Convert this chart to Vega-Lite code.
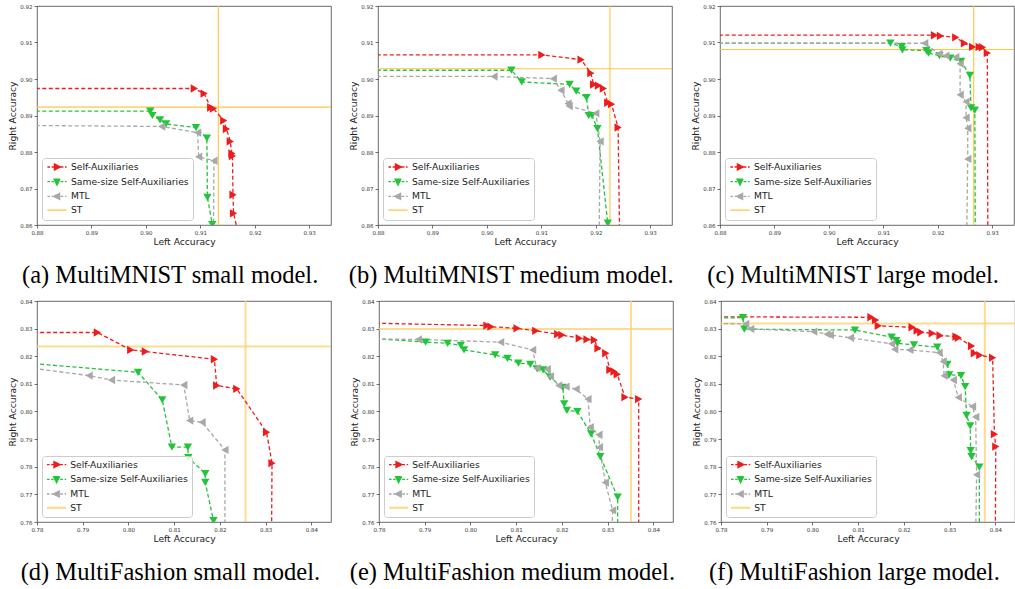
{
"$schema": "https://vega.github.io/schema/vega-lite/v6.json",
"padding": {"left": 8, "top": 3, "right": 0, "bottom": 0},
"data": {"name": "pts"},
"datasets": {"pts": [
{"p":"a","s":"Self-Auxiliaries","i":0,"x":0.875,"y":0.8974},{"p":"a","s":"Self-Auxiliaries","i":1,"x":0.9089,"y":0.8974},{"p":"a","s":"Self-Auxiliaries","i":2,"x":0.9107,"y":0.8960},{"p":"a","s":"Self-Auxiliaries","i":3,"x":0.9119,"y":0.8922},{"p":"a","s":"Self-Auxiliaries","i":4,"x":0.9124,"y":0.8919},{"p":"a","s":"Self-Auxiliaries","i":5,"x":0.9143,"y":0.8886},{"p":"a","s":"Self-Auxiliaries","i":6,"x":0.9148,"y":0.8863},{"p":"a","s":"Self-Auxiliaries","i":7,"x":0.9155,"y":0.8829},{"p":"a","s":"Self-Auxiliaries","i":8,"x":0.9158,"y":0.8796},{"p":"a","s":"Self-Auxiliaries","i":9,"x":0.9159,"y":0.8789},{"p":"a","s":"Self-Auxiliaries","i":10,"x":0.9160,"y":0.8683},{"p":"a","s":"Self-Auxiliaries","i":11,"x":0.9161,"y":0.8632},{"p":"a","s":"Self-Auxiliaries","i":12,"x":0.9174,"y":0.855},
{"p":"a","s":"Same-size Self-Auxiliaries","i":0,"x":0.875,"y":0.8912},{"p":"a","s":"Same-size Self-Auxiliaries","i":1,"x":0.9008,"y":0.8912},{"p":"a","s":"Same-size Self-Auxiliaries","i":2,"x":0.9012,"y":0.8900},{"p":"a","s":"Same-size Self-Auxiliaries","i":3,"x":0.9026,"y":0.8888},{"p":"a","s":"Same-size Self-Auxiliaries","i":4,"x":0.9037,"y":0.8877},{"p":"a","s":"Same-size Self-Auxiliaries","i":5,"x":0.9092,"y":0.8867},{"p":"a","s":"Same-size Self-Auxiliaries","i":6,"x":0.9112,"y":0.8838},{"p":"a","s":"Same-size Self-Auxiliaries","i":7,"x":0.9113,"y":0.8676},{"p":"a","s":"Same-size Self-Auxiliaries","i":8,"x":0.9122,"y":0.8601},{"p":"a","s":"Same-size Self-Auxiliaries","i":9,"x":0.9126,"y":0.855},
{"p":"a","s":"MTL","i":0,"x":0.875,"y":0.8873},{"p":"a","s":"MTL","i":1,"x":0.9029,"y":0.8870},{"p":"a","s":"MTL","i":2,"x":0.9095,"y":0.8853},{"p":"a","s":"MTL","i":3,"x":0.9097,"y":0.8787},{"p":"a","s":"MTL","i":4,"x":0.9125,"y":0.8776},{"p":"a","s":"MTL","i":5,"x":0.9124,"y":0.855},
{"p":"a","s":"ST","i":0,"x":0.9133,"y":0.8923},

{"p":"b","s":"Self-Auxiliaries","i":0,"x":0.875,"y":0.9066},{"p":"b","s":"Self-Auxiliaries","i":1,"x":0.9101,"y":0.9066},{"p":"b","s":"Self-Auxiliaries","i":2,"x":0.9173,"y":0.9053},{"p":"b","s":"Self-Auxiliaries","i":3,"x":0.9191,"y":0.9016},{"p":"b","s":"Self-Auxiliaries","i":4,"x":0.9196,"y":0.8985},{"p":"b","s":"Self-Auxiliaries","i":5,"x":0.9205,"y":0.8982},{"p":"b","s":"Self-Auxiliaries","i":6,"x":0.9214,"y":0.8974},{"p":"b","s":"Self-Auxiliaries","i":7,"x":0.9222,"y":0.8935},{"p":"b","s":"Self-Auxiliaries","i":8,"x":0.9229,"y":0.8931},{"p":"b","s":"Self-Auxiliaries","i":9,"x":0.9241,"y":0.8867},{"p":"b","s":"Self-Auxiliaries","i":10,"x":0.9244,"y":0.855},
{"p":"b","s":"Same-size Self-Auxiliaries","i":0,"x":0.875,"y":0.9024},{"p":"b","s":"Same-size Self-Auxiliaries","i":1,"x":0.9045,"y":0.9024},{"p":"b","s":"Same-size Self-Auxiliaries","i":2,"x":0.9064,"y":0.8992},{"p":"b","s":"Same-size Self-Auxiliaries","i":3,"x":0.9152,"y":0.8985},{"p":"b","s":"Same-size Self-Auxiliaries","i":4,"x":0.9164,"y":0.8967},{"p":"b","s":"Same-size Self-Auxiliaries","i":5,"x":0.9183,"y":0.8949},{"p":"b","s":"Same-size Self-Auxiliaries","i":6,"x":0.9187,"y":0.8900},{"p":"b","s":"Same-size Self-Auxiliaries","i":7,"x":0.9193,"y":0.8900},{"p":"b","s":"Same-size Self-Auxiliaries","i":8,"x":0.9203,"y":0.8864},{"p":"b","s":"Same-size Self-Auxiliaries","i":9,"x":0.9222,"y":0.8605},{"p":"b","s":"Same-size Self-Auxiliaries","i":10,"x":0.9224,"y":0.855},
{"p":"b","s":"MTL","i":0,"x":0.875,"y":0.9007},{"p":"b","s":"MTL","i":1,"x":0.9013,"y":0.9007},{"p":"b","s":"MTL","i":2,"x":0.9122,"y":0.9001},{"p":"b","s":"MTL","i":3,"x":0.9136,"y":0.8969},{"p":"b","s":"MTL","i":4,"x":0.9149,"y":0.8933},{"p":"b","s":"MTL","i":5,"x":0.9151,"y":0.8926},{"p":"b","s":"MTL","i":6,"x":0.9200,"y":0.8906},{"p":"b","s":"MTL","i":7,"x":0.9208,"y":0.8829},{"p":"b","s":"MTL","i":8,"x":0.9206,"y":0.855},
{"p":"b","s":"ST","i":0,"x":0.9226,"y":0.9028},

{"p":"c","s":"Self-Auxiliaries","i":0,"x":0.875,"y":0.9120},{"p":"c","s":"Self-Auxiliaries","i":1,"x":0.9194,"y":0.9120},{"p":"c","s":"Self-Auxiliaries","i":2,"x":0.9205,"y":0.9118},{"p":"c","s":"Self-Auxiliaries","i":3,"x":0.9233,"y":0.9114},{"p":"c","s":"Self-Auxiliaries","i":4,"x":0.9249,"y":0.9098},{"p":"c","s":"Self-Auxiliaries","i":5,"x":0.9264,"y":0.9088},{"p":"c","s":"Self-Auxiliaries","i":6,"x":0.9276,"y":0.9088},{"p":"c","s":"Self-Auxiliaries","i":7,"x":0.9282,"y":0.9087},{"p":"c","s":"Self-Auxiliaries","i":8,"x":0.9291,"y":0.9071},{"p":"c","s":"Self-Auxiliaries","i":9,"x":0.9292,"y":0.855},
{"p":"c","s":"Same-size Self-Auxiliaries","i":0,"x":0.875,"y":0.9098},{"p":"c","s":"Same-size Self-Auxiliaries","i":1,"x":0.9113,"y":0.9098},{"p":"c","s":"Same-size Self-Auxiliaries","i":2,"x":0.9134,"y":0.9089},{"p":"c","s":"Same-size Self-Auxiliaries","i":3,"x":0.9135,"y":0.9080},{"p":"c","s":"Same-size Self-Auxiliaries","i":4,"x":0.9179,"y":0.9078},{"p":"c","s":"Same-size Self-Auxiliaries","i":5,"x":0.9183,"y":0.9071},{"p":"c","s":"Same-size Self-Auxiliaries","i":6,"x":0.9203,"y":0.9064},{"p":"c","s":"Same-size Self-Auxiliaries","i":7,"x":0.9223,"y":0.9057},{"p":"c","s":"Same-size Self-Auxiliaries","i":8,"x":0.9243,"y":0.9048},{"p":"c","s":"Same-size Self-Auxiliaries","i":9,"x":0.9259,"y":0.9010},{"p":"c","s":"Same-size Self-Auxiliaries","i":10,"x":0.9261,"y":0.8921},{"p":"c","s":"Same-size Self-Auxiliaries","i":11,"x":0.9268,"y":0.8915},{"p":"c","s":"Same-size Self-Auxiliaries","i":12,"x":0.9269,"y":0.855},
{"p":"c","s":"MTL","i":0,"x":0.875,"y":0.9098},{"p":"c","s":"MTL","i":1,"x":0.9176,"y":0.9098},{"p":"c","s":"MTL","i":2,"x":0.9202,"y":0.9069},{"p":"c","s":"MTL","i":3,"x":0.9215,"y":0.9064},{"p":"c","s":"MTL","i":4,"x":0.9233,"y":0.9060},{"p":"c","s":"MTL","i":5,"x":0.9241,"y":0.9042},{"p":"c","s":"MTL","i":6,"x":0.9241,"y":0.8957},{"p":"c","s":"MTL","i":7,"x":0.9252,"y":0.8938},{"p":"c","s":"MTL","i":8,"x":0.9252,"y":0.8894},{"p":"c","s":"MTL","i":9,"x":0.9255,"y":0.8865},{"p":"c","s":"MTL","i":10,"x":0.9255,"y":0.8781},{"p":"c","s":"MTL","i":11,"x":0.9253,"y":0.855},
{"p":"c","s":"ST","i":0,"x":0.9266,"y":0.9081},

{"p":"d","s":"Self-Auxiliaries","i":0,"x":0.775,"y":0.8286},{"p":"d","s":"Self-Auxiliaries","i":1,"x":0.7932,"y":0.8286},{"p":"d","s":"Self-Auxiliaries","i":2,"x":0.8005,"y":0.8223},{"p":"d","s":"Self-Auxiliaries","i":3,"x":0.8037,"y":0.8217},{"p":"d","s":"Self-Auxiliaries","i":4,"x":0.8188,"y":0.8189},{"p":"d","s":"Self-Auxiliaries","i":5,"x":0.8193,"y":0.8094},{"p":"d","s":"Self-Auxiliaries","i":6,"x":0.8237,"y":0.8082},{"p":"d","s":"Self-Auxiliaries","i":7,"x":0.8302,"y":0.7925},{"p":"d","s":"Self-Auxiliaries","i":8,"x":0.8314,"y":0.7813},{"p":"d","s":"Self-Auxiliaries","i":9,"x":0.8313,"y":0.755},
{"p":"d","s":"Same-size Self-Auxiliaries","i":0,"x":0.775,"y":0.8179},{"p":"d","s":"Same-size Self-Auxiliaries","i":1,"x":0.8021,"y":0.8142},{"p":"d","s":"Same-size Self-Auxiliaries","i":2,"x":0.8074,"y":0.8042},{"p":"d","s":"Same-size Self-Auxiliaries","i":3,"x":0.8095,"y":0.7871},{"p":"d","s":"Same-size Self-Auxiliaries","i":4,"x":0.8130,"y":0.7871},{"p":"d","s":"Same-size Self-Auxiliaries","i":5,"x":0.8131,"y":0.7833},{"p":"d","s":"Same-size Self-Auxiliaries","i":6,"x":0.8168,"y":0.7775},{"p":"d","s":"Same-size Self-Auxiliaries","i":7,"x":0.8168,"y":0.7743},{"p":"d","s":"Same-size Self-Auxiliaries","i":8,"x":0.8186,"y":0.7605},{"p":"d","s":"Same-size Self-Auxiliaries","i":9,"x":0.8190,"y":0.755},
{"p":"d","s":"MTL","i":0,"x":0.775,"y":0.8165},{"p":"d","s":"MTL","i":1,"x":0.7914,"y":0.8130},{"p":"d","s":"MTL","i":2,"x":0.7963,"y":0.8114},{"p":"d","s":"MTL","i":3,"x":0.8121,"y":0.8096},{"p":"d","s":"MTL","i":4,"x":0.8134,"y":0.7967},{"p":"d","s":"MTL","i":5,"x":0.8161,"y":0.7961},{"p":"d","s":"MTL","i":6,"x":0.8211,"y":0.7861},{"p":"d","s":"MTL","i":7,"x":0.8211,"y":0.755},
{"p":"d","s":"ST","i":0,"x":0.8256,"y":0.8235},

{"p":"e","s":"Self-Auxiliaries","i":0,"x":0.775,"y":0.8321},{"p":"e","s":"Self-Auxiliaries","i":1,"x":0.8036,"y":0.8311},{"p":"e","s":"Self-Auxiliaries","i":2,"x":0.8045,"y":0.8307},{"p":"e","s":"Self-Auxiliaries","i":3,"x":0.8102,"y":0.8301},{"p":"e","s":"Self-Auxiliaries","i":4,"x":0.8143,"y":0.8292},{"p":"e","s":"Self-Auxiliaries","i":5,"x":0.8191,"y":0.8280},{"p":"e","s":"Self-Auxiliaries","i":6,"x":0.8200,"y":0.8277},{"p":"e","s":"Self-Auxiliaries","i":7,"x":0.8238,"y":0.8265},{"p":"e","s":"Self-Auxiliaries","i":8,"x":0.8255,"y":0.8261},{"p":"e","s":"Self-Auxiliaries","i":9,"x":0.8271,"y":0.8259},{"p":"e","s":"Self-Auxiliaries","i":10,"x":0.8279,"y":0.8229},{"p":"e","s":"Self-Auxiliaries","i":11,"x":0.8296,"y":0.8211},{"p":"e","s":"Self-Auxiliaries","i":12,"x":0.8305,"y":0.8151},{"p":"e","s":"Self-Auxiliaries","i":13,"x":0.8314,"y":0.8145},{"p":"e","s":"Self-Auxiliaries","i":14,"x":0.8321,"y":0.8135},{"p":"e","s":"Self-Auxiliaries","i":15,"x":0.8338,"y":0.8052},{"p":"e","s":"Self-Auxiliaries","i":16,"x":0.8368,"y":0.8045},{"p":"e","s":"Self-Auxiliaries","i":17,"x":0.8368,"y":0.755},
{"p":"e","s":"Same-size Self-Auxiliaries","i":0,"x":0.775,"y":0.8269},{"p":"e","s":"Same-size Self-Auxiliaries","i":1,"x":0.7902,"y":0.8251},{"p":"e","s":"Same-size Self-Auxiliaries","i":2,"x":0.7950,"y":0.8247},{"p":"e","s":"Same-size Self-Auxiliaries","i":3,"x":0.7979,"y":0.8239},{"p":"e","s":"Same-size Self-Auxiliaries","i":4,"x":0.7986,"y":0.8223},{"p":"e","s":"Same-size Self-Auxiliaries","i":5,"x":0.8054,"y":0.8205},{"p":"e","s":"Same-size Self-Auxiliaries","i":6,"x":0.8081,"y":0.8192},{"p":"e","s":"Same-size Self-Auxiliaries","i":7,"x":0.8105,"y":0.8175},{"p":"e","s":"Same-size Self-Auxiliaries","i":8,"x":0.8131,"y":0.8171},{"p":"e","s":"Same-size Self-Auxiliaries","i":9,"x":0.8146,"y":0.8154},{"p":"e","s":"Same-size Self-Auxiliaries","i":10,"x":0.8159,"y":0.8151},{"p":"e","s":"Same-size Self-Auxiliaries","i":11,"x":0.8174,"y":0.8124},{"p":"e","s":"Same-size Self-Auxiliaries","i":12,"x":0.8202,"y":0.8087},{"p":"e","s":"Same-size Self-Auxiliaries","i":13,"x":0.8205,"y":0.8028},{"p":"e","s":"Same-size Self-Auxiliaries","i":14,"x":0.8211,"y":0.8004},{"p":"e","s":"Same-size Self-Auxiliaries","i":15,"x":0.8234,"y":0.8000},{"p":"e","s":"Same-size Self-Auxiliaries","i":16,"x":0.8264,"y":0.7919},{"p":"e","s":"Same-size Self-Auxiliaries","i":17,"x":0.8284,"y":0.7837},{"p":"e","s":"Same-size Self-Auxiliaries","i":18,"x":0.8322,"y":0.7690},{"p":"e","s":"Same-size Self-Auxiliaries","i":19,"x":0.8322,"y":0.755},
{"p":"e","s":"MTL","i":0,"x":0.775,"y":0.8263},{"p":"e","s":"MTL","i":1,"x":0.7886,"y":0.8261},{"p":"e","s":"MTL","i":2,"x":0.8066,"y":0.8251},{"p":"e","s":"MTL","i":3,"x":0.8136,"y":0.8223},{"p":"e","s":"MTL","i":4,"x":0.8145,"y":0.8157},{"p":"e","s":"MTL","i":5,"x":0.8168,"y":0.8153},{"p":"e","s":"MTL","i":6,"x":0.8175,"y":0.8127},{"p":"e","s":"MTL","i":7,"x":0.8193,"y":0.8094},{"p":"e","s":"MTL","i":8,"x":0.8209,"y":0.8090},{"p":"e","s":"MTL","i":9,"x":0.8231,"y":0.8081},{"p":"e","s":"MTL","i":10,"x":0.8257,"y":0.8045},{"p":"e","s":"MTL","i":11,"x":0.8262,"y":0.7943},{"p":"e","s":"MTL","i":12,"x":0.8281,"y":0.7916},{"p":"e","s":"MTL","i":13,"x":0.8282,"y":0.7871},{"p":"e","s":"MTL","i":14,"x":0.8295,"y":0.7743},{"p":"e","s":"MTL","i":15,"x":0.8311,"y":0.7642},{"p":"e","s":"MTL","i":16,"x":0.8309,"y":0.755},
{"p":"e","s":"ST","i":0,"x":0.8351,"y":0.8299},

{"p":"f","s":"Self-Auxiliaries","i":0,"x":0.775,"y":0.8343},{"p":"f","s":"Self-Auxiliaries","i":1,"x":0.8128,"y":0.8341},{"p":"f","s":"Self-Auxiliaries","i":2,"x":0.8138,"y":0.8331},{"p":"f","s":"Self-Auxiliaries","i":3,"x":0.8144,"y":0.8310},{"p":"f","s":"Self-Auxiliaries","i":4,"x":0.8218,"y":0.8305},{"p":"f","s":"Self-Auxiliaries","i":5,"x":0.8229,"y":0.8293},{"p":"f","s":"Self-Auxiliaries","i":6,"x":0.8237,"y":0.8287},{"p":"f","s":"Self-Auxiliaries","i":7,"x":0.8262,"y":0.8283},{"p":"f","s":"Self-Auxiliaries","i":8,"x":0.8279,"y":0.8275},{"p":"f","s":"Self-Auxiliaries","i":9,"x":0.8314,"y":0.8271},{"p":"f","s":"Self-Auxiliaries","i":10,"x":0.8319,"y":0.8267},{"p":"f","s":"Self-Auxiliaries","i":11,"x":0.8348,"y":0.8237},{"p":"f","s":"Self-Auxiliaries","i":12,"x":0.8354,"y":0.8211},{"p":"f","s":"Self-Auxiliaries","i":13,"x":0.8366,"y":0.8204},{"p":"f","s":"Self-Auxiliaries","i":14,"x":0.8394,"y":0.8195},{"p":"f","s":"Self-Auxiliaries","i":15,"x":0.8398,"y":0.7918},{"p":"f","s":"Self-Auxiliaries","i":16,"x":0.8401,"y":0.7873},{"p":"f","s":"Self-Auxiliaries","i":17,"x":0.8400,"y":0.755},
{"p":"f","s":"Same-size Self-Auxiliaries","i":0,"x":0.775,"y":0.8337},{"p":"f","s":"Same-size Self-Auxiliaries","i":1,"x":0.7848,"y":0.8340},{"p":"f","s":"Same-size Self-Auxiliaries","i":2,"x":0.7851,"y":0.8298},{"p":"f","s":"Same-size Self-Auxiliaries","i":3,"x":0.8093,"y":0.8295},{"p":"f","s":"Same-size Self-Auxiliaries","i":4,"x":0.8173,"y":0.8269},{"p":"f","s":"Same-size Self-Auxiliaries","i":5,"x":0.8183,"y":0.8257},{"p":"f","s":"Same-size Self-Auxiliaries","i":6,"x":0.8186,"y":0.8247},{"p":"f","s":"Same-size Self-Auxiliaries","i":7,"x":0.8222,"y":0.8241},{"p":"f","s":"Same-size Self-Auxiliaries","i":8,"x":0.8273,"y":0.8233},{"p":"f","s":"Same-size Self-Auxiliaries","i":9,"x":0.8295,"y":0.8171},{"p":"f","s":"Same-size Self-Auxiliaries","i":10,"x":0.8299,"y":0.8133},{"p":"f","s":"Same-size Self-Auxiliaries","i":11,"x":0.8325,"y":0.8130},{"p":"f","s":"Same-size Self-Auxiliaries","i":12,"x":0.8334,"y":0.8090},{"p":"f","s":"Same-size Self-Auxiliaries","i":13,"x":0.8337,"y":0.7986},{"p":"f","s":"Same-size Self-Auxiliaries","i":14,"x":0.8345,"y":0.7948},{"p":"f","s":"Same-size Self-Auxiliaries","i":15,"x":0.8346,"y":0.7858},{"p":"f","s":"Same-size Self-Auxiliaries","i":16,"x":0.8348,"y":0.7837},{"p":"f","s":"Same-size Self-Auxiliaries","i":17,"x":0.8365,"y":0.7799},{"p":"f","s":"Same-size Self-Auxiliaries","i":18,"x":0.8365,"y":0.755},
{"p":"f","s":"MTL","i":0,"x":0.775,"y":0.8319},{"p":"f","s":"MTL","i":1,"x":0.7854,"y":0.8317},{"p":"f","s":"MTL","i":2,"x":0.7865,"y":0.8299},{"p":"f","s":"MTL","i":3,"x":0.8003,"y":0.8289},{"p":"f","s":"MTL","i":4,"x":0.8032,"y":0.8280},{"p":"f","s":"MTL","i":5,"x":0.8039,"y":0.8277},{"p":"f","s":"MTL","i":6,"x":0.8083,"y":0.8267},{"p":"f","s":"MTL","i":7,"x":0.8173,"y":0.8245},{"p":"f","s":"MTL","i":8,"x":0.8180,"y":0.8225},{"p":"f","s":"MTL","i":9,"x":0.8213,"y":0.8223},{"p":"f","s":"MTL","i":10,"x":0.8277,"y":0.8213},{"p":"f","s":"MTL","i":11,"x":0.8286,"y":0.8181},{"p":"f","s":"MTL","i":12,"x":0.8288,"y":0.8129},{"p":"f","s":"MTL","i":13,"x":0.8308,"y":0.8114},{"p":"f","s":"MTL","i":14,"x":0.8319,"y":0.8051},{"p":"f","s":"MTL","i":15,"x":0.8350,"y":0.8018},{"p":"f","s":"MTL","i":16,"x":0.8357,"y":0.7980},{"p":"f","s":"MTL","i":17,"x":0.8359,"y":0.7771},{"p":"f","s":"MTL","i":18,"x":0.8357,"y":0.755},
{"p":"f","s":"ST","i":0,"x":0.8377,"y":0.8319}
]},
"vconcat": [
{"hconcat": [
{"title": "(a) MultiMNIST small model.", "width": 294, "height": 219, "transform": [{"filter": "datum.p == 'a'"}],
"layer": [
{"transform": [{"filter": "datum.s == 'ST'"}], "mark": {"type": "rule", "color": "#ffc53d", "strokeWidth": 1.1},
"encoding": {"x": {"field": "x", "type": "quantitative", "scale": {"domain": [0.88, 0.934], "nice": false, "zero": false}, "axis": {"title": "Left Accuracy", "values": [0.88, 0.89, 0.9, 0.91, 0.92, 0.93], "format": ".2f"}}}},
{"transform": [{"filter": "datum.s == 'ST'"}], "mark": {"type": "rule", "color": "#ffc53d", "strokeWidth": 1.1},
"encoding": {"y": {"field": "y", "type": "quantitative", "scale": {"domain": [0.86, 0.92], "nice": false, "zero": false}, "axis": {"title": "Right Accuracy", "values": [0.86, 0.87, 0.88, 0.89, 0.9, 0.91, 0.92], "format": ".2f"}}}},
{"transform": [{"filter": "datum.s != 'ST'"}], "mark": {"type": "line", "clip": true, "strokeDash": [4, 2.5], "strokeWidth": 1.3},
"encoding": {
"x": {"field": "x", "type": "quantitative", "scale": {"domain": [0.88, 0.934], "nice": false, "zero": false}, "axis": {"title": "Left Accuracy", "values": [0.88, 0.89, 0.9, 0.91, 0.92, 0.93], "format": ".2f"}},
"y": {"field": "y", "type": "quantitative", "scale": {"domain": [0.86, 0.92], "nice": false, "zero": false}, "axis": {"title": "Right Accuracy", "values": [0.86, 0.87, 0.88, 0.89, 0.9, 0.91, 0.92], "format": ".2f"}},
"order": {"field": "i", "type": "quantitative"},
"color": {"field": "s", "type": "nominal", "scale": {"domain": ["Self-Auxiliaries", "Same-size Self-Auxiliaries", "MTL", "ST"], "range": ["#ee1c1c", "#22c43a", "#a8a8a8", "#ffc53d"]},
"legend": {"title": null, "orient": "bottom-left", "offset": 5, "symbolSize": 64, "symbolOffset": 6, "labelOffset": 9,
"encode": {"symbols": {"update": {
"shape": {"signal": "datum.value == 'Self-Auxiliaries' ? 'M-2.4,0L-1.75,0M-1.35,0L-0.75,0M-0.65,-0.75L0.85,0L-0.65,0.75ZM0.9,0L1.6,0M2,0L2.4,0' : datum.value == 'Same-size Self-Auxiliaries' ? 'M-2.4,0L-1.75,0M-1.35,0L-0.75,0M-0.75,-0.65L0.75,-0.65L0,0.85ZM0.9,0L1.6,0M2,0L2.4,0' : datum.value == 'MTL' ? 'M-2.4,0L-1.75,0M-1.35,0L-0.75,0M0.65,-0.75L-0.85,0L0.65,0.75ZM0.9,0L1.6,0M2,0L2.4,0' : 'M-2.4,0L2.4,0'"},
"fill": {"signal": "datum.value == 'Self-Auxiliaries' ? '#ee1c1c' : datum.value == 'Same-size Self-Auxiliaries' ? '#22c43a' : datum.value == 'MTL' ? '#a8a8a8' : '#ffc53d'"},
"stroke": {"signal": "datum.value == 'Self-Auxiliaries' ? '#ee1c1c' : datum.value == 'Same-size Self-Auxiliaries' ? '#22c43a' : datum.value == 'MTL' ? '#a8a8a8' : '#ffc53d'"},
"strokeWidth": {"value": 1.3}, "strokeDash": {"value": [1, 0]}, "opacity": {"value": 1}}}}}}}},
{"transform": [{"filter": "datum.s != 'ST'"}], "mark": {"type": "point", "clip": true, "filled": true, "size": 70, "opacity": 1, "strokeWidth": 0},
"encoding": {
"x": {"field": "x", "type": "quantitative", "scale": {"domain": [0.88, 0.934], "nice": false, "zero": false}, "axis": {"title": "Left Accuracy", "values": [0.88, 0.89, 0.9, 0.91, 0.92, 0.93], "format": ".2f"}},
"y": {"field": "y", "type": "quantitative", "scale": {"domain": [0.86, 0.92], "nice": false, "zero": false}, "axis": {"title": "Right Accuracy", "values": [0.86, 0.87, 0.88, 0.89, 0.9, 0.91, 0.92], "format": ".2f"}},
"shape": {"field": "s", "type": "nominal", "scale": {"domain": ["Self-Auxiliaries", "Same-size Self-Auxiliaries", "MTL"], "range": ["triangle-right", "triangle-down", "triangle-left"]}, "legend": null},
"color": {"field": "s", "type": "nominal", "scale": {"domain": ["Self-Auxiliaries", "Same-size Self-Auxiliaries", "MTL", "ST"], "range": ["#ee1c1c", "#22c43a", "#a8a8a8", "#ffc53d"]},
"legend": {"title": null, "orient": "bottom-left", "offset": 5, "symbolSize": 64, "symbolOffset": 6, "labelOffset": 9,
"encode": {"symbols": {"update": {
"shape": {"signal": "datum.value == 'Self-Auxiliaries' ? 'M-2.4,0L-1.75,0M-1.35,0L-0.75,0M-0.65,-0.75L0.85,0L-0.65,0.75ZM0.9,0L1.6,0M2,0L2.4,0' : datum.value == 'Same-size Self-Auxiliaries' ? 'M-2.4,0L-1.75,0M-1.35,0L-0.75,0M-0.75,-0.65L0.75,-0.65L0,0.85ZM0.9,0L1.6,0M2,0L2.4,0' : datum.value == 'MTL' ? 'M-2.4,0L-1.75,0M-1.35,0L-0.75,0M0.65,-0.75L-0.85,0L0.65,0.75ZM0.9,0L1.6,0M2,0L2.4,0' : 'M-2.4,0L2.4,0'"},
"fill": {"signal": "datum.value == 'Self-Auxiliaries' ? '#ee1c1c' : datum.value == 'Same-size Self-Auxiliaries' ? '#22c43a' : datum.value == 'MTL' ? '#a8a8a8' : '#ffc53d'"},
"stroke": {"signal": "datum.value == 'Self-Auxiliaries' ? '#ee1c1c' : datum.value == 'Same-size Self-Auxiliaries' ? '#22c43a' : datum.value == 'MTL' ? '#a8a8a8' : '#ffc53d'"},
"strokeWidth": {"value": 1.3}, "strokeDash": {"value": [1, 0]}, "opacity": {"value": 1}}}}}}}}
]},
{"title": "(b) MultiMNIST medium model.", "width": 294, "height": 219, "transform": [{"filter": "datum.p == 'b'"}],
"layer": [
{"transform": [{"filter": "datum.s == 'ST'"}], "mark": {"type": "rule", "color": "#ffc53d", "strokeWidth": 1.1},
"encoding": {"x": {"field": "x", "type": "quantitative", "scale": {"domain": [0.88, 0.934], "nice": false, "zero": false}, "axis": {"title": "Left Accuracy", "values": [0.88, 0.89, 0.9, 0.91, 0.92, 0.93], "format": ".2f"}}}},
{"transform": [{"filter": "datum.s == 'ST'"}], "mark": {"type": "rule", "color": "#ffc53d", "strokeWidth": 1.1},
"encoding": {"y": {"field": "y", "type": "quantitative", "scale": {"domain": [0.86, 0.92], "nice": false, "zero": false}, "axis": {"title": "Right Accuracy", "values": [0.86, 0.87, 0.88, 0.89, 0.9, 0.91, 0.92], "format": ".2f"}}}},
{"transform": [{"filter": "datum.s != 'ST'"}], "mark": {"type": "line", "clip": true, "strokeDash": [4, 2.5], "strokeWidth": 1.3},
"encoding": {
"x": {"field": "x", "type": "quantitative", "scale": {"domain": [0.88, 0.934], "nice": false, "zero": false}, "axis": {"title": "Left Accuracy", "values": [0.88, 0.89, 0.9, 0.91, 0.92, 0.93], "format": ".2f"}},
"y": {"field": "y", "type": "quantitative", "scale": {"domain": [0.86, 0.92], "nice": false, "zero": false}, "axis": {"title": "Right Accuracy", "values": [0.86, 0.87, 0.88, 0.89, 0.9, 0.91, 0.92], "format": ".2f"}},
"order": {"field": "i", "type": "quantitative"},
"color": {"field": "s", "type": "nominal", "scale": {"domain": ["Self-Auxiliaries", "Same-size Self-Auxiliaries", "MTL", "ST"], "range": ["#ee1c1c", "#22c43a", "#a8a8a8", "#ffc53d"]},
"legend": {"title": null, "orient": "bottom-left", "offset": 5, "symbolSize": 64, "symbolOffset": 6, "labelOffset": 9,
"encode": {"symbols": {"update": {
"shape": {"signal": "datum.value == 'Self-Auxiliaries' ? 'M-2.4,0L-1.75,0M-1.35,0L-0.75,0M-0.65,-0.75L0.85,0L-0.65,0.75ZM0.9,0L1.6,0M2,0L2.4,0' : datum.value == 'Same-size Self-Auxiliaries' ? 'M-2.4,0L-1.75,0M-1.35,0L-0.75,0M-0.75,-0.65L0.75,-0.65L0,0.85ZM0.9,0L1.6,0M2,0L2.4,0' : datum.value == 'MTL' ? 'M-2.4,0L-1.75,0M-1.35,0L-0.75,0M0.65,-0.75L-0.85,0L0.65,0.75ZM0.9,0L1.6,0M2,0L2.4,0' : 'M-2.4,0L2.4,0'"},
"fill": {"signal": "datum.value == 'Self-Auxiliaries' ? '#ee1c1c' : datum.value == 'Same-size Self-Auxiliaries' ? '#22c43a' : datum.value == 'MTL' ? '#a8a8a8' : '#ffc53d'"},
"stroke": {"signal": "datum.value == 'Self-Auxiliaries' ? '#ee1c1c' : datum.value == 'Same-size Self-Auxiliaries' ? '#22c43a' : datum.value == 'MTL' ? '#a8a8a8' : '#ffc53d'"},
"strokeWidth": {"value": 1.3}, "strokeDash": {"value": [1, 0]}, "opacity": {"value": 1}}}}}}}},
{"transform": [{"filter": "datum.s != 'ST'"}], "mark": {"type": "point", "clip": true, "filled": true, "size": 70, "opacity": 1, "strokeWidth": 0},
"encoding": {
"x": {"field": "x", "type": "quantitative", "scale": {"domain": [0.88, 0.934], "nice": false, "zero": false}, "axis": {"title": "Left Accuracy", "values": [0.88, 0.89, 0.9, 0.91, 0.92, 0.93], "format": ".2f"}},
"y": {"field": "y", "type": "quantitative", "scale": {"domain": [0.86, 0.92], "nice": false, "zero": false}, "axis": {"title": "Right Accuracy", "values": [0.86, 0.87, 0.88, 0.89, 0.9, 0.91, 0.92], "format": ".2f"}},
"shape": {"field": "s", "type": "nominal", "scale": {"domain": ["Self-Auxiliaries", "Same-size Self-Auxiliaries", "MTL"], "range": ["triangle-right", "triangle-down", "triangle-left"]}, "legend": null},
"color": {"field": "s", "type": "nominal", "scale": {"domain": ["Self-Auxiliaries", "Same-size Self-Auxiliaries", "MTL", "ST"], "range": ["#ee1c1c", "#22c43a", "#a8a8a8", "#ffc53d"]},
"legend": {"title": null, "orient": "bottom-left", "offset": 5, "symbolSize": 64, "symbolOffset": 6, "labelOffset": 9,
"encode": {"symbols": {"update": {
"shape": {"signal": "datum.value == 'Self-Auxiliaries' ? 'M-2.4,0L-1.75,0M-1.35,0L-0.75,0M-0.65,-0.75L0.85,0L-0.65,0.75ZM0.9,0L1.6,0M2,0L2.4,0' : datum.value == 'Same-size Self-Auxiliaries' ? 'M-2.4,0L-1.75,0M-1.35,0L-0.75,0M-0.75,-0.65L0.75,-0.65L0,0.85ZM0.9,0L1.6,0M2,0L2.4,0' : datum.value == 'MTL' ? 'M-2.4,0L-1.75,0M-1.35,0L-0.75,0M0.65,-0.75L-0.85,0L0.65,0.75ZM0.9,0L1.6,0M2,0L2.4,0' : 'M-2.4,0L2.4,0'"},
"fill": {"signal": "datum.value == 'Self-Auxiliaries' ? '#ee1c1c' : datum.value == 'Same-size Self-Auxiliaries' ? '#22c43a' : datum.value == 'MTL' ? '#a8a8a8' : '#ffc53d'"},
"stroke": {"signal": "datum.value == 'Self-Auxiliaries' ? '#ee1c1c' : datum.value == 'Same-size Self-Auxiliaries' ? '#22c43a' : datum.value == 'MTL' ? '#a8a8a8' : '#ffc53d'"},
"strokeWidth": {"value": 1.3}, "strokeDash": {"value": [1, 0]}, "opacity": {"value": 1}}}}}}}}
]},
{"title": "(c) MultiMNIST large model.", "width": 294, "height": 219, "transform": [{"filter": "datum.p == 'c'"}],
"layer": [
{"transform": [{"filter": "datum.s == 'ST'"}], "mark": {"type": "rule", "color": "#ffc53d", "strokeWidth": 1.1},
"encoding": {"x": {"field": "x", "type": "quantitative", "scale": {"domain": [0.88, 0.934], "nice": false, "zero": false}, "axis": {"title": "Left Accuracy", "values": [0.88, 0.89, 0.9, 0.91, 0.92, 0.93], "format": ".2f"}}}},
{"transform": [{"filter": "datum.s == 'ST'"}], "mark": {"type": "rule", "color": "#ffc53d", "strokeWidth": 1.1},
"encoding": {"y": {"field": "y", "type": "quantitative", "scale": {"domain": [0.86, 0.92], "nice": false, "zero": false}, "axis": {"title": "Right Accuracy", "values": [0.86, 0.87, 0.88, 0.89, 0.9, 0.91, 0.92], "format": ".2f"}}}},
{"transform": [{"filter": "datum.s != 'ST'"}], "mark": {"type": "line", "clip": true, "strokeDash": [4, 2.5], "strokeWidth": 1.3},
"encoding": {
"x": {"field": "x", "type": "quantitative", "scale": {"domain": [0.88, 0.934], "nice": false, "zero": false}, "axis": {"title": "Left Accuracy", "values": [0.88, 0.89, 0.9, 0.91, 0.92, 0.93], "format": ".2f"}},
"y": {"field": "y", "type": "quantitative", "scale": {"domain": [0.86, 0.92], "nice": false, "zero": false}, "axis": {"title": "Right Accuracy", "values": [0.86, 0.87, 0.88, 0.89, 0.9, 0.91, 0.92], "format": ".2f"}},
"order": {"field": "i", "type": "quantitative"},
"color": {"field": "s", "type": "nominal", "scale": {"domain": ["Self-Auxiliaries", "Same-size Self-Auxiliaries", "MTL", "ST"], "range": ["#ee1c1c", "#22c43a", "#a8a8a8", "#ffc53d"]},
"legend": {"title": null, "orient": "bottom-left", "offset": 5, "symbolSize": 64, "symbolOffset": 6, "labelOffset": 9,
"encode": {"symbols": {"update": {
"shape": {"signal": "datum.value == 'Self-Auxiliaries' ? 'M-2.4,0L-1.75,0M-1.35,0L-0.75,0M-0.65,-0.75L0.85,0L-0.65,0.75ZM0.9,0L1.6,0M2,0L2.4,0' : datum.value == 'Same-size Self-Auxiliaries' ? 'M-2.4,0L-1.75,0M-1.35,0L-0.75,0M-0.75,-0.65L0.75,-0.65L0,0.85ZM0.9,0L1.6,0M2,0L2.4,0' : datum.value == 'MTL' ? 'M-2.4,0L-1.75,0M-1.35,0L-0.75,0M0.65,-0.75L-0.85,0L0.65,0.75ZM0.9,0L1.6,0M2,0L2.4,0' : 'M-2.4,0L2.4,0'"},
"fill": {"signal": "datum.value == 'Self-Auxiliaries' ? '#ee1c1c' : datum.value == 'Same-size Self-Auxiliaries' ? '#22c43a' : datum.value == 'MTL' ? '#a8a8a8' : '#ffc53d'"},
"stroke": {"signal": "datum.value == 'Self-Auxiliaries' ? '#ee1c1c' : datum.value == 'Same-size Self-Auxiliaries' ? '#22c43a' : datum.value == 'MTL' ? '#a8a8a8' : '#ffc53d'"},
"strokeWidth": {"value": 1.3}, "strokeDash": {"value": [1, 0]}, "opacity": {"value": 1}}}}}}}},
{"transform": [{"filter": "datum.s != 'ST'"}], "mark": {"type": "point", "clip": true, "filled": true, "size": 70, "opacity": 1, "strokeWidth": 0},
"encoding": {
"x": {"field": "x", "type": "quantitative", "scale": {"domain": [0.88, 0.934], "nice": false, "zero": false}, "axis": {"title": "Left Accuracy", "values": [0.88, 0.89, 0.9, 0.91, 0.92, 0.93], "format": ".2f"}},
"y": {"field": "y", "type": "quantitative", "scale": {"domain": [0.86, 0.92], "nice": false, "zero": false}, "axis": {"title": "Right Accuracy", "values": [0.86, 0.87, 0.88, 0.89, 0.9, 0.91, 0.92], "format": ".2f"}},
"shape": {"field": "s", "type": "nominal", "scale": {"domain": ["Self-Auxiliaries", "Same-size Self-Auxiliaries", "MTL"], "range": ["triangle-right", "triangle-down", "triangle-left"]}, "legend": null},
"color": {"field": "s", "type": "nominal", "scale": {"domain": ["Self-Auxiliaries", "Same-size Self-Auxiliaries", "MTL", "ST"], "range": ["#ee1c1c", "#22c43a", "#a8a8a8", "#ffc53d"]},
"legend": {"title": null, "orient": "bottom-left", "offset": 5, "symbolSize": 64, "symbolOffset": 6, "labelOffset": 9,
"encode": {"symbols": {"update": {
"shape": {"signal": "datum.value == 'Self-Auxiliaries' ? 'M-2.4,0L-1.75,0M-1.35,0L-0.75,0M-0.65,-0.75L0.85,0L-0.65,0.75ZM0.9,0L1.6,0M2,0L2.4,0' : datum.value == 'Same-size Self-Auxiliaries' ? 'M-2.4,0L-1.75,0M-1.35,0L-0.75,0M-0.75,-0.65L0.75,-0.65L0,0.85ZM0.9,0L1.6,0M2,0L2.4,0' : datum.value == 'MTL' ? 'M-2.4,0L-1.75,0M-1.35,0L-0.75,0M0.65,-0.75L-0.85,0L0.65,0.75ZM0.9,0L1.6,0M2,0L2.4,0' : 'M-2.4,0L2.4,0'"},
"fill": {"signal": "datum.value == 'Self-Auxiliaries' ? '#ee1c1c' : datum.value == 'Same-size Self-Auxiliaries' ? '#22c43a' : datum.value == 'MTL' ? '#a8a8a8' : '#ffc53d'"},
"stroke": {"signal": "datum.value == 'Self-Auxiliaries' ? '#ee1c1c' : datum.value == 'Same-size Self-Auxiliaries' ? '#22c43a' : datum.value == 'MTL' ? '#a8a8a8' : '#ffc53d'"},
"strokeWidth": {"value": 1.3}, "strokeDash": {"value": [1, 0]}, "opacity": {"value": 1}}}}}}}}
]}
], "spacing": 16, "resolve": {"scale": {"color": "independent", "shape": "independent", "x": "independent", "y": "independent"}, "legend": {"color": "independent"}}},
{"hconcat": [
{"title": "(d) MultiFashion small model.", "width": 294, "height": 221, "transform": [{"filter": "datum.p == 'd'"}],
"layer": [
{"transform": [{"filter": "datum.s == 'ST'"}], "mark": {"type": "rule", "color": "#fcd06a", "strokeWidth": 2, "opacity": 0.75},
"encoding": {"x": {"field": "x", "type": "quantitative", "scale": {"domain": [0.78, 0.8443], "nice": false, "zero": false}, "axis": {"title": "Left Accuracy", "values": [0.78, 0.79, 0.8, 0.81, 0.82, 0.83, 0.84], "format": ".2f"}}}},
{"transform": [{"filter": "datum.s == 'ST'"}], "mark": {"type": "rule", "color": "#fcd06a", "strokeWidth": 2, "opacity": 0.75},
"encoding": {"y": {"field": "y", "type": "quantitative", "scale": {"domain": [0.76, 0.84], "nice": false, "zero": false}, "axis": {"title": "Right Accuracy", "values": [0.76, 0.77, 0.78, 0.79, 0.8, 0.81, 0.82, 0.83, 0.84], "format": ".2f"}}}},
{"transform": [{"filter": "datum.s != 'ST'"}], "mark": {"type": "line", "clip": true, "strokeDash": [4, 2.5], "strokeWidth": 1.3},
"encoding": {
"x": {"field": "x", "type": "quantitative", "scale": {"domain": [0.78, 0.8443], "nice": false, "zero": false}, "axis": {"title": "Left Accuracy", "values": [0.78, 0.79, 0.8, 0.81, 0.82, 0.83, 0.84], "format": ".2f"}},
"y": {"field": "y", "type": "quantitative", "scale": {"domain": [0.76, 0.84], "nice": false, "zero": false}, "axis": {"title": "Right Accuracy", "values": [0.76, 0.77, 0.78, 0.79, 0.8, 0.81, 0.82, 0.83, 0.84], "format": ".2f"}},
"order": {"field": "i", "type": "quantitative"},
"color": {"field": "s", "type": "nominal", "scale": {"domain": ["Self-Auxiliaries", "Same-size Self-Auxiliaries", "MTL", "ST"], "range": ["#ee1c1c", "#22c43a", "#a8a8a8", "#fcd880"]},
"legend": {"title": null, "orient": "bottom-left", "offset": 5, "symbolSize": 64, "symbolOffset": 6, "labelOffset": 9,
"encode": {"symbols": {"update": {
"shape": {"signal": "datum.value == 'Self-Auxiliaries' ? 'M-2.4,0L-1.75,0M-1.35,0L-0.75,0M-0.65,-0.75L0.85,0L-0.65,0.75ZM0.9,0L1.6,0M2,0L2.4,0' : datum.value == 'Same-size Self-Auxiliaries' ? 'M-2.4,0L-1.75,0M-1.35,0L-0.75,0M-0.75,-0.65L0.75,-0.65L0,0.85ZM0.9,0L1.6,0M2,0L2.4,0' : datum.value == 'MTL' ? 'M-2.4,0L-1.75,0M-1.35,0L-0.75,0M0.65,-0.75L-0.85,0L0.65,0.75ZM0.9,0L1.6,0M2,0L2.4,0' : 'M-2.4,0L2.4,0'"},
"fill": {"signal": "datum.value == 'Self-Auxiliaries' ? '#ee1c1c' : datum.value == 'Same-size Self-Auxiliaries' ? '#22c43a' : datum.value == 'MTL' ? '#a8a8a8' : '#fcd880'"},
"stroke": {"signal": "datum.value == 'Self-Auxiliaries' ? '#ee1c1c' : datum.value == 'Same-size Self-Auxiliaries' ? '#22c43a' : datum.value == 'MTL' ? '#a8a8a8' : '#fcd880'"},
"strokeWidth": {"signal": "datum.value == 'ST' ? 2 : 1.3"}, "strokeDash": {"value": [1, 0]}, "opacity": {"value": 1}}}}}}}},
{"transform": [{"filter": "datum.s != 'ST'"}], "mark": {"type": "point", "clip": true, "filled": true, "size": 70, "opacity": 1, "strokeWidth": 0},
"encoding": {
"x": {"field": "x", "type": "quantitative", "scale": {"domain": [0.78, 0.8443], "nice": false, "zero": false}, "axis": {"title": "Left Accuracy", "values": [0.78, 0.79, 0.8, 0.81, 0.82, 0.83, 0.84], "format": ".2f"}},
"y": {"field": "y", "type": "quantitative", "scale": {"domain": [0.76, 0.84], "nice": false, "zero": false}, "axis": {"title": "Right Accuracy", "values": [0.76, 0.77, 0.78, 0.79, 0.8, 0.81, 0.82, 0.83, 0.84], "format": ".2f"}},
"shape": {"field": "s", "type": "nominal", "scale": {"domain": ["Self-Auxiliaries", "Same-size Self-Auxiliaries", "MTL"], "range": ["triangle-right", "triangle-down", "triangle-left"]}, "legend": null},
"color": {"field": "s", "type": "nominal", "scale": {"domain": ["Self-Auxiliaries", "Same-size Self-Auxiliaries", "MTL", "ST"], "range": ["#ee1c1c", "#22c43a", "#a8a8a8", "#fcd880"]},
"legend": {"title": null, "orient": "bottom-left", "offset": 5, "symbolSize": 64, "symbolOffset": 6, "labelOffset": 9,
"encode": {"symbols": {"update": {
"shape": {"signal": "datum.value == 'Self-Auxiliaries' ? 'M-2.4,0L-1.75,0M-1.35,0L-0.75,0M-0.65,-0.75L0.85,0L-0.65,0.75ZM0.9,0L1.6,0M2,0L2.4,0' : datum.value == 'Same-size Self-Auxiliaries' ? 'M-2.4,0L-1.75,0M-1.35,0L-0.75,0M-0.75,-0.65L0.75,-0.65L0,0.85ZM0.9,0L1.6,0M2,0L2.4,0' : datum.value == 'MTL' ? 'M-2.4,0L-1.75,0M-1.35,0L-0.75,0M0.65,-0.75L-0.85,0L0.65,0.75ZM0.9,0L1.6,0M2,0L2.4,0' : 'M-2.4,0L2.4,0'"},
"fill": {"signal": "datum.value == 'Self-Auxiliaries' ? '#ee1c1c' : datum.value == 'Same-size Self-Auxiliaries' ? '#22c43a' : datum.value == 'MTL' ? '#a8a8a8' : '#fcd880'"},
"stroke": {"signal": "datum.value == 'Self-Auxiliaries' ? '#ee1c1c' : datum.value == 'Same-size Self-Auxiliaries' ? '#22c43a' : datum.value == 'MTL' ? '#a8a8a8' : '#fcd880'"},
"strokeWidth": {"signal": "datum.value == 'ST' ? 2 : 1.3"}, "strokeDash": {"value": [1, 0]}, "opacity": {"value": 1}}}}}}}}
]},
{"title": "(e) MultiFashion medium model.", "width": 294, "height": 221, "transform": [{"filter": "datum.p == 'e'"}],
"layer": [
{"transform": [{"filter": "datum.s == 'ST'"}], "mark": {"type": "rule", "color": "#fcd06a", "strokeWidth": 2, "opacity": 0.75},
"encoding": {"x": {"field": "x", "type": "quantitative", "scale": {"domain": [0.78, 0.8443], "nice": false, "zero": false}, "axis": {"title": "Left Accuracy", "values": [0.78, 0.79, 0.8, 0.81, 0.82, 0.83, 0.84], "format": ".2f"}}}},
{"transform": [{"filter": "datum.s == 'ST'"}], "mark": {"type": "rule", "color": "#fcd06a", "strokeWidth": 2, "opacity": 0.75},
"encoding": {"y": {"field": "y", "type": "quantitative", "scale": {"domain": [0.76, 0.84], "nice": false, "zero": false}, "axis": {"title": "Right Accuracy", "values": [0.76, 0.77, 0.78, 0.79, 0.8, 0.81, 0.82, 0.83, 0.84], "format": ".2f"}}}},
{"transform": [{"filter": "datum.s != 'ST'"}], "mark": {"type": "line", "clip": true, "strokeDash": [4, 2.5], "strokeWidth": 1.3},
"encoding": {
"x": {"field": "x", "type": "quantitative", "scale": {"domain": [0.78, 0.8443], "nice": false, "zero": false}, "axis": {"title": "Left Accuracy", "values": [0.78, 0.79, 0.8, 0.81, 0.82, 0.83, 0.84], "format": ".2f"}},
"y": {"field": "y", "type": "quantitative", "scale": {"domain": [0.76, 0.84], "nice": false, "zero": false}, "axis": {"title": "Right Accuracy", "values": [0.76, 0.77, 0.78, 0.79, 0.8, 0.81, 0.82, 0.83, 0.84], "format": ".2f"}},
"order": {"field": "i", "type": "quantitative"},
"color": {"field": "s", "type": "nominal", "scale": {"domain": ["Self-Auxiliaries", "Same-size Self-Auxiliaries", "MTL", "ST"], "range": ["#ee1c1c", "#22c43a", "#a8a8a8", "#fcd880"]},
"legend": {"title": null, "orient": "bottom-left", "offset": 5, "symbolSize": 64, "symbolOffset": 6, "labelOffset": 9,
"encode": {"symbols": {"update": {
"shape": {"signal": "datum.value == 'Self-Auxiliaries' ? 'M-2.4,0L-1.75,0M-1.35,0L-0.75,0M-0.65,-0.75L0.85,0L-0.65,0.75ZM0.9,0L1.6,0M2,0L2.4,0' : datum.value == 'Same-size Self-Auxiliaries' ? 'M-2.4,0L-1.75,0M-1.35,0L-0.75,0M-0.75,-0.65L0.75,-0.65L0,0.85ZM0.9,0L1.6,0M2,0L2.4,0' : datum.value == 'MTL' ? 'M-2.4,0L-1.75,0M-1.35,0L-0.75,0M0.65,-0.75L-0.85,0L0.65,0.75ZM0.9,0L1.6,0M2,0L2.4,0' : 'M-2.4,0L2.4,0'"},
"fill": {"signal": "datum.value == 'Self-Auxiliaries' ? '#ee1c1c' : datum.value == 'Same-size Self-Auxiliaries' ? '#22c43a' : datum.value == 'MTL' ? '#a8a8a8' : '#fcd880'"},
"stroke": {"signal": "datum.value == 'Self-Auxiliaries' ? '#ee1c1c' : datum.value == 'Same-size Self-Auxiliaries' ? '#22c43a' : datum.value == 'MTL' ? '#a8a8a8' : '#fcd880'"},
"strokeWidth": {"signal": "datum.value == 'ST' ? 2 : 1.3"}, "strokeDash": {"value": [1, 0]}, "opacity": {"value": 1}}}}}}}},
{"transform": [{"filter": "datum.s != 'ST'"}], "mark": {"type": "point", "clip": true, "filled": true, "size": 70, "opacity": 1, "strokeWidth": 0},
"encoding": {
"x": {"field": "x", "type": "quantitative", "scale": {"domain": [0.78, 0.8443], "nice": false, "zero": false}, "axis": {"title": "Left Accuracy", "values": [0.78, 0.79, 0.8, 0.81, 0.82, 0.83, 0.84], "format": ".2f"}},
"y": {"field": "y", "type": "quantitative", "scale": {"domain": [0.76, 0.84], "nice": false, "zero": false}, "axis": {"title": "Right Accuracy", "values": [0.76, 0.77, 0.78, 0.79, 0.8, 0.81, 0.82, 0.83, 0.84], "format": ".2f"}},
"shape": {"field": "s", "type": "nominal", "scale": {"domain": ["Self-Auxiliaries", "Same-size Self-Auxiliaries", "MTL"], "range": ["triangle-right", "triangle-down", "triangle-left"]}, "legend": null},
"color": {"field": "s", "type": "nominal", "scale": {"domain": ["Self-Auxiliaries", "Same-size Self-Auxiliaries", "MTL", "ST"], "range": ["#ee1c1c", "#22c43a", "#a8a8a8", "#fcd880"]},
"legend": {"title": null, "orient": "bottom-left", "offset": 5, "symbolSize": 64, "symbolOffset": 6, "labelOffset": 9,
"encode": {"symbols": {"update": {
"shape": {"signal": "datum.value == 'Self-Auxiliaries' ? 'M-2.4,0L-1.75,0M-1.35,0L-0.75,0M-0.65,-0.75L0.85,0L-0.65,0.75ZM0.9,0L1.6,0M2,0L2.4,0' : datum.value == 'Same-size Self-Auxiliaries' ? 'M-2.4,0L-1.75,0M-1.35,0L-0.75,0M-0.75,-0.65L0.75,-0.65L0,0.85ZM0.9,0L1.6,0M2,0L2.4,0' : datum.value == 'MTL' ? 'M-2.4,0L-1.75,0M-1.35,0L-0.75,0M0.65,-0.75L-0.85,0L0.65,0.75ZM0.9,0L1.6,0M2,0L2.4,0' : 'M-2.4,0L2.4,0'"},
"fill": {"signal": "datum.value == 'Self-Auxiliaries' ? '#ee1c1c' : datum.value == 'Same-size Self-Auxiliaries' ? '#22c43a' : datum.value == 'MTL' ? '#a8a8a8' : '#fcd880'"},
"stroke": {"signal": "datum.value == 'Self-Auxiliaries' ? '#ee1c1c' : datum.value == 'Same-size Self-Auxiliaries' ? '#22c43a' : datum.value == 'MTL' ? '#a8a8a8' : '#fcd880'"},
"strokeWidth": {"signal": "datum.value == 'ST' ? 2 : 1.3"}, "strokeDash": {"value": [1, 0]}, "opacity": {"value": 1}}}}}}}}
]},
{"title": "(f) MultiFashion large model.", "width": 294, "height": 221, "transform": [{"filter": "datum.p == 'f'"}],
"layer": [
{"transform": [{"filter": "datum.s == 'ST'"}], "mark": {"type": "rule", "color": "#fcd06a", "strokeWidth": 2, "opacity": 0.75},
"encoding": {"x": {"field": "x", "type": "quantitative", "scale": {"domain": [0.78, 0.8443], "nice": false, "zero": false}, "axis": {"title": "Left Accuracy", "values": [0.78, 0.79, 0.8, 0.81, 0.82, 0.83, 0.84], "format": ".2f"}}}},
{"transform": [{"filter": "datum.s == 'ST'"}], "mark": {"type": "rule", "color": "#fcd06a", "strokeWidth": 2, "opacity": 0.75},
"encoding": {"y": {"field": "y", "type": "quantitative", "scale": {"domain": [0.76, 0.84], "nice": false, "zero": false}, "axis": {"title": "Right Accuracy", "values": [0.76, 0.77, 0.78, 0.79, 0.8, 0.81, 0.82, 0.83, 0.84], "format": ".2f"}}}},
{"transform": [{"filter": "datum.s != 'ST'"}], "mark": {"type": "line", "clip": true, "strokeDash": [4, 2.5], "strokeWidth": 1.3},
"encoding": {
"x": {"field": "x", "type": "quantitative", "scale": {"domain": [0.78, 0.8443], "nice": false, "zero": false}, "axis": {"title": "Left Accuracy", "values": [0.78, 0.79, 0.8, 0.81, 0.82, 0.83, 0.84], "format": ".2f"}},
"y": {"field": "y", "type": "quantitative", "scale": {"domain": [0.76, 0.84], "nice": false, "zero": false}, "axis": {"title": "Right Accuracy", "values": [0.76, 0.77, 0.78, 0.79, 0.8, 0.81, 0.82, 0.83, 0.84], "format": ".2f"}},
"order": {"field": "i", "type": "quantitative"},
"color": {"field": "s", "type": "nominal", "scale": {"domain": ["Self-Auxiliaries", "Same-size Self-Auxiliaries", "MTL", "ST"], "range": ["#ee1c1c", "#22c43a", "#a8a8a8", "#fcd880"]},
"legend": {"title": null, "orient": "bottom-left", "offset": 5, "symbolSize": 64, "symbolOffset": 6, "labelOffset": 9,
"encode": {"symbols": {"update": {
"shape": {"signal": "datum.value == 'Self-Auxiliaries' ? 'M-2.4,0L-1.75,0M-1.35,0L-0.75,0M-0.65,-0.75L0.85,0L-0.65,0.75ZM0.9,0L1.6,0M2,0L2.4,0' : datum.value == 'Same-size Self-Auxiliaries' ? 'M-2.4,0L-1.75,0M-1.35,0L-0.75,0M-0.75,-0.65L0.75,-0.65L0,0.85ZM0.9,0L1.6,0M2,0L2.4,0' : datum.value == 'MTL' ? 'M-2.4,0L-1.75,0M-1.35,0L-0.75,0M0.65,-0.75L-0.85,0L0.65,0.75ZM0.9,0L1.6,0M2,0L2.4,0' : 'M-2.4,0L2.4,0'"},
"fill": {"signal": "datum.value == 'Self-Auxiliaries' ? '#ee1c1c' : datum.value == 'Same-size Self-Auxiliaries' ? '#22c43a' : datum.value == 'MTL' ? '#a8a8a8' : '#fcd880'"},
"stroke": {"signal": "datum.value == 'Self-Auxiliaries' ? '#ee1c1c' : datum.value == 'Same-size Self-Auxiliaries' ? '#22c43a' : datum.value == 'MTL' ? '#a8a8a8' : '#fcd880'"},
"strokeWidth": {"signal": "datum.value == 'ST' ? 2 : 1.3"}, "strokeDash": {"value": [1, 0]}, "opacity": {"value": 1}}}}}}}},
{"transform": [{"filter": "datum.s != 'ST'"}], "mark": {"type": "point", "clip": true, "filled": true, "size": 70, "opacity": 1, "strokeWidth": 0},
"encoding": {
"x": {"field": "x", "type": "quantitative", "scale": {"domain": [0.78, 0.8443], "nice": false, "zero": false}, "axis": {"title": "Left Accuracy", "values": [0.78, 0.79, 0.8, 0.81, 0.82, 0.83, 0.84], "format": ".2f"}},
"y": {"field": "y", "type": "quantitative", "scale": {"domain": [0.76, 0.84], "nice": false, "zero": false}, "axis": {"title": "Right Accuracy", "values": [0.76, 0.77, 0.78, 0.79, 0.8, 0.81, 0.82, 0.83, 0.84], "format": ".2f"}},
"shape": {"field": "s", "type": "nominal", "scale": {"domain": ["Self-Auxiliaries", "Same-size Self-Auxiliaries", "MTL"], "range": ["triangle-right", "triangle-down", "triangle-left"]}, "legend": null},
"color": {"field": "s", "type": "nominal", "scale": {"domain": ["Self-Auxiliaries", "Same-size Self-Auxiliaries", "MTL", "ST"], "range": ["#ee1c1c", "#22c43a", "#a8a8a8", "#fcd880"]},
"legend": {"title": null, "orient": "bottom-left", "offset": 5, "symbolSize": 64, "symbolOffset": 6, "labelOffset": 9,
"encode": {"symbols": {"update": {
"shape": {"signal": "datum.value == 'Self-Auxiliaries' ? 'M-2.4,0L-1.75,0M-1.35,0L-0.75,0M-0.65,-0.75L0.85,0L-0.65,0.75ZM0.9,0L1.6,0M2,0L2.4,0' : datum.value == 'Same-size Self-Auxiliaries' ? 'M-2.4,0L-1.75,0M-1.35,0L-0.75,0M-0.75,-0.65L0.75,-0.65L0,0.85ZM0.9,0L1.6,0M2,0L2.4,0' : datum.value == 'MTL' ? 'M-2.4,0L-1.75,0M-1.35,0L-0.75,0M0.65,-0.75L-0.85,0L0.65,0.75ZM0.9,0L1.6,0M2,0L2.4,0' : 'M-2.4,0L2.4,0'"},
"fill": {"signal": "datum.value == 'Self-Auxiliaries' ? '#ee1c1c' : datum.value == 'Same-size Self-Auxiliaries' ? '#22c43a' : datum.value == 'MTL' ? '#a8a8a8' : '#fcd880'"},
"stroke": {"signal": "datum.value == 'Self-Auxiliaries' ? '#ee1c1c' : datum.value == 'Same-size Self-Auxiliaries' ? '#22c43a' : datum.value == 'MTL' ? '#a8a8a8' : '#fcd880'"},
"strokeWidth": {"signal": "datum.value == 'ST' ? 2 : 1.3"}, "strokeDash": {"value": [1, 0]}, "opacity": {"value": 1}}}}}}}}
]}
], "spacing": 16, "resolve": {"scale": {"color": "independent", "shape": "independent", "x": "independent", "y": "independent"}, "legend": {"color": "independent"}}}
],
"spacing": 10,
"resolve": {"scale": {"color": "independent", "shape": "independent", "x": "independent", "y": "independent"}, "legend": {"color": "independent"}},
"config": {
"font": "DejaVu Sans",
"view": {"stroke": "#444", "strokeWidth": 0.8},
"axis": {"grid": false, "domain": false, "tickSize": 3, "tickColor": "#333", "tickWidth": 0.7, "labelFont": "DejaVu Sans", "labelFontSize": 5.5, "labelColor": "#333", "labelPadding": 2, "labelFlush": false, "labelOverlap": false, "titleFont": "DejaVu Sans", "titleFontSize": 9.2, "titleFontWeight": "normal", "titleColor": "#222", "titlePadding": 2},
"legend": {"fillColor": "rgba(255,255,255,0.85)", "strokeColor": "#cccccc", "cornerRadius": 3, "padding": 4, "labelFont": "DejaVu Sans", "labelFontSize": 9.2, "labelColor": "#222", "rowPadding": 2.7, "labelLimit": 300},
"title": {"font": "Liberation Serif", "fontSize": 24.5, "fontWeight": "normal", "color": "#000", "orient": "bottom", "offset": 17, "anchor": "middle", "frame": "bounds"}
}
}
